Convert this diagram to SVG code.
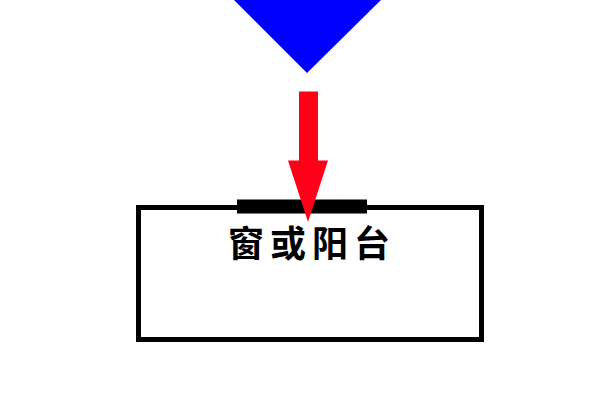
<svg xmlns="http://www.w3.org/2000/svg" width="600" height="400" viewBox="0 0 600 400">
<style>
.lbl{font-family:"Noto Sans CJK SC","Noto Sans CJK JP",sans-serif;font-size:36px;font-weight:bold;fill:#000}
</style>
<rect width="600" height="400" fill="#fff"/>
<g id="sun">
<polygon points="232,-2 383,-2 307,73" fill="#0000ff"/>
</g>
<g id="room">
<rect x="138.5" y="207.5" width="343" height="132" fill="none" stroke="#000" stroke-width="5"/>
<text class="lbl" x="312" y="257" text-anchor="middle" letter-spacing="6">窗或阳台</text>
</g>
<g id="window">
<rect x="237" y="199.5" width="130" height="14" fill="#000"/>
</g>
<g id="connectors">
<polygon points="299,91.5 318,91.5 318,160.5 328,160.5 308,222 288,160.5 299,160.5" fill="#ff0019"/>
</g>
</svg>
